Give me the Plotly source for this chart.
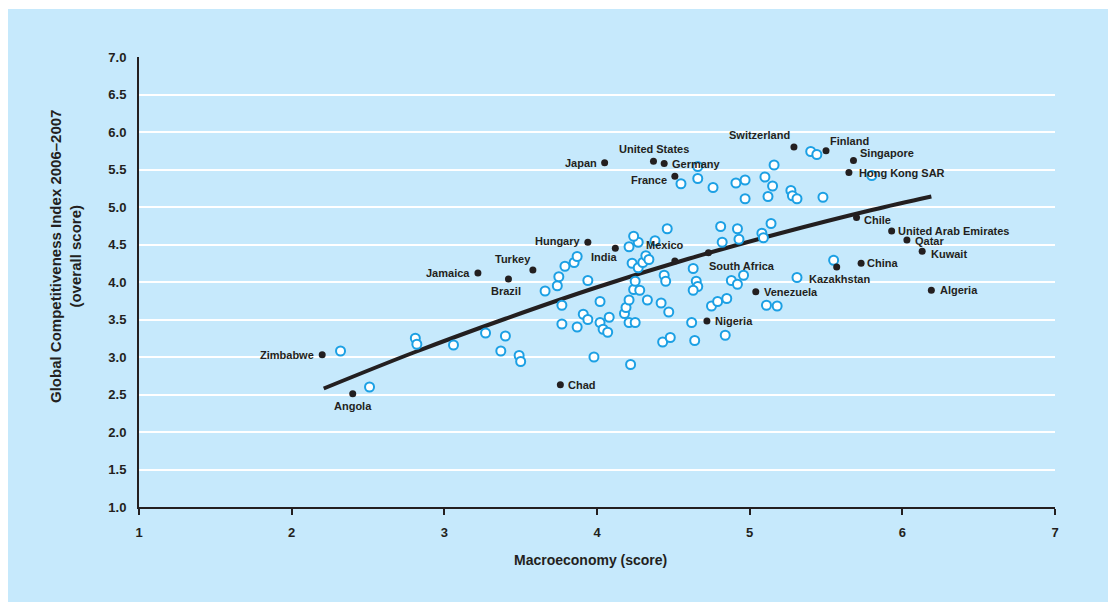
import plotly.graph_objects as go

# ---------------- data ----------------
labeled_names = ["Zimbabwe", "Angola", "Jamaica", "Brazil", "Turkey", "Hungary", "India",
                 "Japan", "United States", "Germany", "France", "Mexico", "South Africa",
                 "Chad", "Nigeria", "Venezuela", "Kazakhstan", "China", "Chile",
                 "United Arab Emirates", "Qatar", "Kuwait", "Algeria", "Switzerland",
                 "Finland", "Singapore", "Hong Kong SAR"]
labeled_x = [2.20, 2.40, 3.22, 3.42, 3.58, 3.94, 4.12,
             4.05, 4.37, 4.44, 4.51, 4.51, 4.73,
             3.76, 4.72, 5.04, 5.57, 5.73, 5.70,
             5.93, 6.03, 6.13, 6.19, 5.29,
             5.50, 5.68, 5.65]
labeled_y = [3.03, 2.51, 4.12, 4.04, 4.16, 4.53, 4.45,
             5.59, 5.61, 5.58, 5.41, 4.28, 4.39,
             2.63, 3.48, 3.87, 4.20, 4.25, 4.86,
             4.68, 4.56, 4.41, 3.89, 5.80,
             5.75, 5.62, 5.46]

other_x = [2.32, 2.51, 2.81, 2.82, 3.06, 3.27, 3.40, 3.37, 3.49, 3.50,
           3.66, 3.74, 3.75, 3.79, 3.85, 3.87, 3.94, 3.77, 3.77, 3.87,
           3.91, 3.94, 4.02, 4.02, 4.04, 4.07, 4.08, 3.98, 4.18, 4.19,
           4.21, 4.21, 4.25, 4.22, 4.24, 4.28, 4.25, 4.23, 4.27, 4.30,
           4.32, 4.34, 4.21, 4.27, 4.24, 4.38, 4.46, 4.33, 4.42, 4.47,
           4.44, 4.45, 4.43, 4.48, 4.62, 4.64, 4.63, 4.65, 4.66, 4.63,
           4.75, 4.79, 4.85, 4.84, 4.88, 4.92, 4.96, 5.11, 5.18, 4.82,
           4.81, 4.92, 5.14, 4.93, 5.08, 5.09, 5.31, 5.55, 4.66, 4.55,
           4.66, 4.76, 4.91, 4.97, 4.97, 5.10, 5.15, 5.12, 5.16, 5.40,
           5.44, 5.27, 5.28, 5.31, 5.48, 5.80]
other_y = [3.08, 2.60, 3.25, 3.17, 3.16, 3.32, 3.28, 3.08, 3.02, 2.94,
           3.88, 3.95, 4.07, 4.21, 4.26, 4.34, 4.02, 3.69, 3.44, 3.40,
           3.57, 3.50, 3.74, 3.46, 3.37, 3.33, 3.53, 3.00, 3.58, 3.66,
           3.76, 3.46, 3.46, 2.90, 3.90, 3.89, 4.01, 4.25, 4.19, 4.26,
           4.35, 4.30, 4.47, 4.53, 4.61, 4.55, 4.71, 3.76, 3.72, 3.60,
           4.09, 4.01, 3.20, 3.26, 3.46, 3.22, 4.18, 4.01, 3.94, 3.89,
           3.68, 3.74, 3.78, 3.29, 4.02, 3.97, 4.09, 3.69, 3.68, 4.53,
           4.74, 4.71, 4.78, 4.57, 4.65, 4.59, 4.06, 4.29, 5.54, 5.31,
           5.38, 5.26, 5.32, 5.36, 5.11, 5.40, 5.28, 5.14, 5.56, 5.74,
           5.70, 5.22, 5.15, 5.11, 5.13, 5.42]

trend_x = [2.21, 2.8, 3.4, 4.0, 4.6, 5.2, 5.8, 6.19]
trend_y = [2.58, 3.06, 3.51, 3.93, 4.31, 4.65, 4.96, 5.14]

y_ticks = [1.0, 1.5, 2.0, 2.5, 3.0, 3.5, 4.0, 4.5, 5.0, 5.5, 6.0, 6.5, 7.0]
x_ticks = [1, 2, 3, 4, 5, 6, 7]

x_title = "Macroeconomy (score)"
y_title = "Global Competitiveness Index 2006–2007<br>(overall score)"

# ---------------- style ----------------
BG = "#c6e9fc"
DARK = "#231f20"
BLUE = "#1ca0e4"
COND = "Liberation Sans Narrow, Arial Narrow, Liberation Sans, Arial, sans-serif"
LABEL_FONT = "Liberation Sans, Arial, sans-serif"

# label placement: (xanchor, yanchor, xshift, yshift)
label_pos = {
    "Zimbabwe": ("right", "middle", -6, 0),
    "Angola": ("center", "top", 0, -4),
    "Jamaica": ("right", "middle", -6, 0),
    "Brazil": ("center", "top", -2, -4),
    "Turkey": ("right", "bottom", 0, 3),
    "Hungary": ("right", "middle", -5, 1),
    "India": ("right", "top", 5, -1),
    "Japan": ("right", "middle", -6, 0),
    "United States": ("center", "bottom", 1, 4),
    "Germany": ("left", "middle", 6, 0),
    "France": ("right", "middle", -6, -4),
    "Mexico": ("center", "bottom", -10, 8),
    "South Africa": ("left", "top", -1, -5),
    "Chad": ("left", "middle", 6, 0),
    "Nigeria": ("left", "middle", 6, 0),
    "Venezuela": ("left", "middle", 6, 0),
    "Kazakhstan": ("center", "top", 3, -4),
    "China": ("left", "middle", 4, 0),
    "Chile": ("left", "middle", 5, -2),
    "United Arab Emirates": ("left", "middle", 4, 0),
    "Qatar": ("left", "middle", 6, -1),
    "Kuwait": ("left", "middle", 7, -3),
    "Algeria": ("left", "middle", 7, 0),
    "Switzerland": ("right", "bottom", -2, 4),
    "Finland": ("left", "bottom", 2, 2),
    "Singapore": ("left", "bottom", 5, 0),
    "Hong Kong SAR": ("left", "middle", 8, 0),
}

fig = go.Figure()

fig.add_trace(go.Scatter(
    x=trend_x, y=trend_y, mode="lines",
    line=dict(color=DARK, width=4, shape="spline", smoothing=1.0),
    hoverinfo="skip", showlegend=False))

fig.add_trace(go.Scatter(
    x=other_x, y=other_y, mode="markers",
    marker=dict(symbol="circle", size=9, color="white",
                line=dict(color=BLUE, width=2)),
    showlegend=False))

fig.add_trace(go.Scatter(
    x=labeled_x, y=labeled_y, mode="markers", text=labeled_names,
    marker=dict(symbol="circle", size=7, color=DARK),
    showlegend=False))

annotations = []
for name, xv, yv in zip(labeled_names, labeled_x, labeled_y):
    xa, ya, xs, ys = label_pos[name]
    annotations.append(dict(
        x=xv, y=yv, xref="x", yref="y", text=name, showarrow=False,
        xanchor=xa, yanchor=ya, xshift=xs, yshift=ys,
        font=dict(family=LABEL_FONT, size=11, color=DARK, weight="bold")))

annotations.append(dict(
    x=(590 - 139) / 916, y=-(560 - 507) / 450, xref="paper", yref="paper",
    text=x_title, showarrow=False,
    font=dict(family=COND, size=14, color=DARK, weight="bold"),
    xanchor="center", yanchor="middle"))

annotations.append(dict(
    x=(65 - 139) / 916, y=(507 - 257) / 450, xref="paper", yref="paper",
    text=y_title, showarrow=False, textangle=-90,
    font=dict(family=COND, size=15, color=DARK, weight="bold"),
    xanchor="center", yanchor="middle"))

fig.update_layout(
    width=1108, height=602,
    margin=dict(l=139, r=53, t=57, b=95, pad=0),
    paper_bgcolor="white",
    plot_bgcolor=BG,
    showlegend=False,
    annotations=annotations,
    shapes=[dict(type="rect", xref="paper", yref="paper",
                 x0=(8 - 139) / 916, x1=1.1, y0=-0.3, y1=(507 - 9) / 450,
                 fillcolor=BG, line=dict(width=0), layer="below")],
    xaxis=dict(
        range=[1, 7], tickvals=x_ticks, ticktext=[str(v) for v in x_ticks],
        showgrid=False, zeroline=False,
        showline=True, linecolor=DARK, linewidth=2,
        ticks="outside", ticklen=6, tickwidth=1.5, tickcolor=DARK,
        ticklabelstandoff=6,
        tickfont=dict(family=COND, size=13, color=DARK, weight="bold")),
    yaxis=dict(
        range=[1, 7], tickvals=y_ticks, ticktext=[f"{v:.1f}" for v in y_ticks],
        showgrid=True, gridcolor="white", gridwidth=2, zeroline=False,
        showline=True, linecolor=DARK, linewidth=2,
        ticks="", ticklabelstandoff=8,
        tickfont=dict(family=COND, size=13, color=DARK, weight="bold")),
)

fig.write_html("out.html")
